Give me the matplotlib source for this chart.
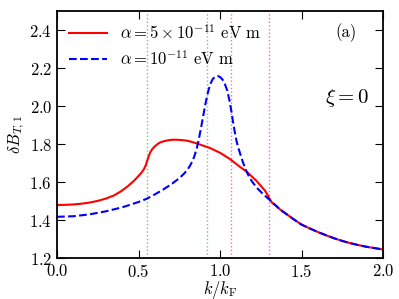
import matplotlib
matplotlib.use("Agg")
import matplotlib.pyplot as plt

# === DATA ===
k_tail = [1.366, 1.40, 1.45, 1.5, 1.55, 1.6, 1.65, 1.7, 1.75, 1.8, 1.85, 1.9, 1.95, 2.0]
b_tail = [1.457, 1.436, 1.405, 1.376, 1.356, 1.337, 1.320, 1.304, 1.290, 1.278, 1.268,
          1.259, 1.252, 1.245]

k_red = [0.0, 0.05, 0.1, 0.15, 0.2, 0.25, 0.3, 0.35, 0.39, 0.43, 0.471, 0.5, 0.52,
         0.533, 0.545, 0.553, 0.563, 0.573, 0.583, 0.6, 0.62, 0.634, 0.66, 0.69, 0.715,
         0.75, 0.797, 0.84, 0.878, 0.939, 1.0, 1.061, 1.122, 1.163, 1.224, 1.26, 1.274,
         1.29, 1.305, 1.32, 1.345] + k_tail
b_red = [1.479, 1.480, 1.482, 1.486, 1.492, 1.501, 1.513, 1.530, 1.550, 1.575, 1.606,
         1.632, 1.652, 1.668, 1.690, 1.712, 1.738, 1.758, 1.772, 1.788, 1.802, 1.809,
         1.816, 1.821, 1.823, 1.822, 1.818, 1.808, 1.797, 1.779, 1.754, 1.721, 1.680,
         1.655, 1.606, 1.570, 1.557, 1.535, 1.510, 1.490, 1.474] + b_tail

k_blue = [0.0, 0.1, 0.2, 0.3, 0.4, 0.5, 0.55, 0.6, 0.65, 0.7, 0.75, 0.78, 0.8, 0.82,
          0.84, 0.855, 0.866, 0.88, 0.895, 0.91, 0.925, 0.94, 0.955, 0.97, 0.985, 1.0,
          1.015, 1.03, 1.045, 1.06, 1.07, 1.08, 1.09, 1.1, 1.112, 1.125, 1.14, 1.16,
          1.18, 1.2, 1.23, 1.26, 1.29, 1.32, 1.345] + k_tail
b_blue = [1.417, 1.420, 1.430, 1.446, 1.467, 1.495, 1.512, 1.535, 1.560, 1.588, 1.620,
          1.645, 1.665, 1.692, 1.730, 1.770, 1.810, 1.870, 1.940, 2.010, 2.070, 2.115,
          2.142, 2.155, 2.158, 2.153, 2.140, 2.115, 2.080, 2.020, 1.970, 1.915, 1.865,
          1.820, 1.780, 1.745, 1.705, 1.660, 1.625, 1.598, 1.566, 1.540, 1.517, 1.494,
          1.474] + b_tail

green_lines = [0.55, 0.92]
magenta_lines = [1.065, 1.30]

labels = [r"$\alpha = 5\times10^{-11}\ \mathrm{eV\ m}$",
          r"$\alpha = 10^{-11}\ \mathrm{eV\ m}$"]

# ------------------------------
# Style
# ------------------------------
plt.rcParams["font.family"] = "serif"
plt.rcParams["font.serif"] = ["cmr10", "DejaVu Serif"]
plt.rcParams["mathtext.fontset"] = "cm"
plt.rcParams["axes.formatter.use_mathtext"] = True
plt.rcParams["font.size"] = 12
plt.rcParams["axes.linewidth"] = 1.3
plt.rcParams["xtick.direction"] = "in"
plt.rcParams["ytick.direction"] = "in"
plt.rcParams["xtick.top"] = True
plt.rcParams["ytick.right"] = True
plt.rcParams["xtick.major.size"] = 6
plt.rcParams["ytick.major.size"] = 6

fig = plt.figure(figsize=(3.99, 2.99), dpi=100)
ax = fig.add_axes([0.143, 0.137, 0.817, 0.826])

for x in green_lines:
    ax.axvline(x, color="#77c877", ls=":", lw=1.0)
for x in magenta_lines:
    ax.axvline(x, color="#e070e0", ls=":", lw=1.0)

ax.plot(k_red, b_red, color="red", lw=1.5, label=labels[0])
ax.plot(k_blue, b_blue, color="blue", lw=1.5, ls="--", label=labels[1])

ax.set_xlim(0, 2.0)
ax.set_ylim(1.2, 2.5)
ax.set_xticks([0.0, 0.5, 1.0, 1.5, 2.0])
ax.set_yticks([1.2, 1.4, 1.6, 1.8, 2.0, 2.2, 2.4])
ax.set_xlabel(r"$k/k_{\rm F}$", labelpad=-1)
ax.set_ylabel(r"$\delta B_{T,1}$", labelpad=2)

ax.text(1.77, 2.385, "(a)", ha="center", va="center", fontsize=12)
ax.text(1.78, 2.04, r"$\xi = 0$", ha="center", va="center", fontsize=15)

ax.legend(loc="upper left", frameon=False, fontsize=12, handlelength=2.3,
          borderaxespad=0.3, labelspacing=0.45)

plt.savefig("out.png", dpi=100)
plt.close()
